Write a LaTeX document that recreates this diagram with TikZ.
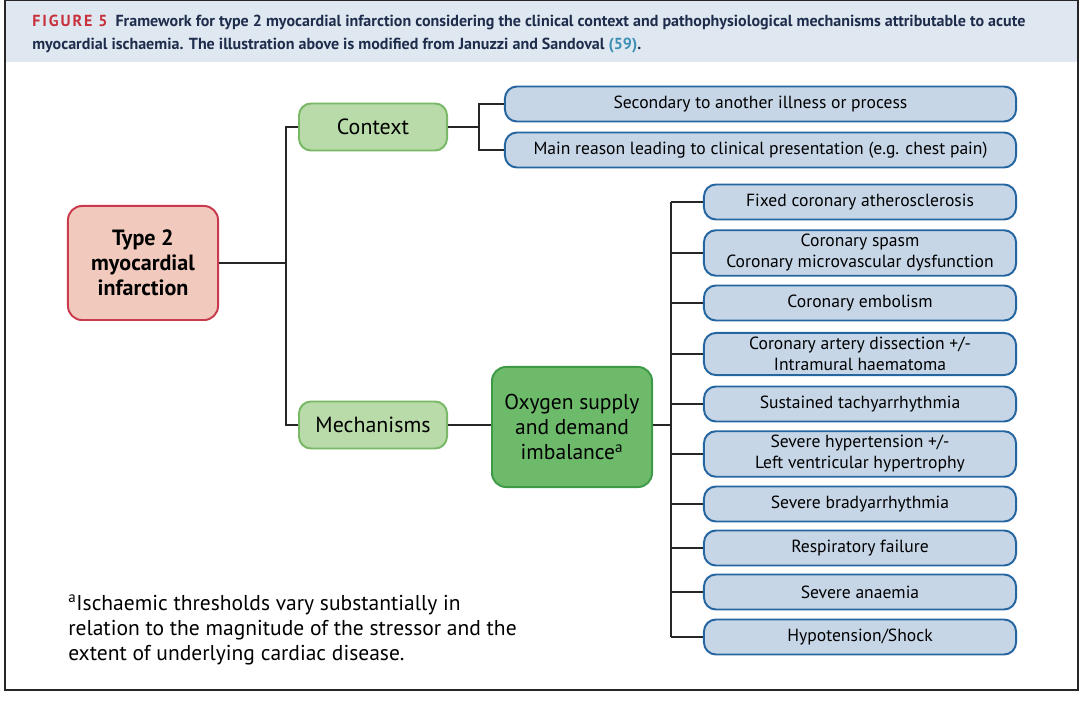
\documentclass[tikz,border=0pt]{standalone}
\usepackage{fontspec}
\setmainfont{PT Sans}
\usepackage{xcolor}
\usepackage{tikz}
\usetikzlibrary{positioning}

\definecolor{hdrfill}{HTML}{DFE8F0}
\definecolor{navy}{HTML}{1F2D4D}
\definecolor{figred}{HTML}{C8303C}
\definecolor{refblue}{HTML}{3D8FB5}
\definecolor{pinkfill}{HTML}{F2C9BD}
\definecolor{pinkline}{HTML}{C93A4C}
\definecolor{lgfill}{HTML}{B8DBA9}
\definecolor{lgline}{HTML}{78B866}
\definecolor{mgfill}{HTML}{6DBA6B}
\definecolor{mgline}{HTML}{3F9A48}
\definecolor{bfill}{HTML}{C6D6E7}
\definecolor{bline}{HTML}{2565A0}

\tikzset{
    conn/.style={
        draw=black!85,
        line width=1.4pt
    },
    rootbox/.style={
        draw=pinkline, fill=pinkfill, line width=1.4pt,
        rounded corners=0.35cm, align=center,
        minimum width=3.75cm, minimum height=2.85cm,
        font=\fontsize{15.7}{17.8}\selectfont\bfseries
    },
    catbox/.style={
        draw=lgline, fill=lgfill, line width=1.4pt,
        rounded corners=0.3cm, align=center,
        minimum width=3.7cm, minimum height=1.175cm,
        font=\fontsize{15.6}{18}\selectfont
    },
    oxbox/.style={
        draw=mgline, fill=mgfill, line width=1.4pt,
        rounded corners=0.35cm, align=center,
        minimum width=4cm, minimum height=3cm,
        font=\fontsize{15.3}{18}\selectfont
    },
    itembox/.style={
        draw=bline, fill=bfill, line width=1.4pt,
        rounded corners=0.3cm, align=center,
        minimum height=0.875cm, inner ysep=3pt,
        font=\fontsize{12.5}{14.9}\selectfont
    }
}

\begin{document}
\begin{tikzpicture}[x=0.025cm,y=-0.025cm]
        \useasboundingbox (0,0) rectangle (1083,707);

        % draw frame and caption band
        \fill[hdrfill] (5,0) rectangle (1078,62);
        \draw[line width=1pt, black!85] (5,0.5) rectangle (1078,690);
        \node[anchor=west, align=left, inner sep=0pt, text=navy,
              font=\fontsize{11.4}{17}\selectfont\bfseries] (caption) at (32,34)
            {{\color{figred}\addfontfeature{LetterSpace=12}FIGURE 5}\enspace Framework for type 2 myocardial infarction considering the clinical context and pathophysiological mechanisms attributable to acute\\
             myocardial ischaemia. The illustration above is modified from Januzzi and Sandoval {\color{refblue}(59)}.};

        % draw main nodes
        \node[rootbox] (type2) at (143,263) {Type 2\\myocardial\\infarction};
        \node[catbox] (ctx) at (373,127) {Context};
        \node[catbox] (mech) at (373,425) {Mechanisms};
        \node[oxbox] (ox) at (572,427) {Oxygen supply\\and demand\\imbalance\textsuperscript{a}};

        % draw context items
        \node[itembox, minimum width=12.775cm] (c1) at (760.5,104) {Secondary to another illness or process};
        \node[itembox, minimum width=12.775cm] (c2) at (760.5,150) {Main reason leading to clinical presentation (e.g. chest pain)};

        % draw mechanism items
        \foreach \k/\yk/\txt in {1/202/{Fixed coronary atherosclerosis},
                                 2/253/{Coronary spasm\\Coronary microvascular dysfunction},
                                 3/303/{Coronary embolism},
                                 4/354/{Coronary artery dissection +/-\\Intramural haematoma},
                                 5/404/{Sustained tachyarrhythmia},
                                 6/454/{Severe hypertension +/-\\Left ventricular hypertrophy},
                                 7/504/{Severe bradyarrhythmia},
                                 8/548/{Respiratory failure},
                                 9/592/{Severe anaemia},
                                 10/637/{Hypotension/Shock}}
        {
            \node[itembox, minimum width=7.8cm] (m\k) at (860,\yk) {\txt};
        }

        % draw connectors
        \coordinate (lbrk) at (286,263);
        \coordinate (cbrk) at (479,127);
        \coordinate (mbrk) at (671,425);
        \draw[conn] (type2.east) -- (lbrk);
        \draw[conn] (ctx.west) -- (lbrk |- ctx.west) -- (lbrk |- mech.west) -- (mech.west);
        \draw[conn] (ctx.east) -- (cbrk);
        \draw[conn] (c1.west) -- (cbrk |- c1.west) -- (cbrk |- c2.west) -- (c2.west);
        \draw[conn] (mech.east) -- (ox.west |- mech.east);
        \draw[conn] (ox.east |- mech.east) -- (mbrk);
        \draw[conn] (mbrk |- m1.west) -- (mbrk |- m10.west);
        \foreach \k in {1,...,10}
        {
            \draw[conn] (mbrk |- m\k.west) -- (m\k.west);
        }

        % draw footnote
        \node[anchor=west, align=left, inner sep=0pt,
              font=\fontsize{15.3}{17.8}\selectfont] (note) at (68,630)
            {\textsuperscript{a}Ischaemic thresholds vary substantially in\\
             relation to the magnitude of the stressor and the\\
             extent of underlying cardiac disease.};
    \end{tikzpicture}
\end{document}
